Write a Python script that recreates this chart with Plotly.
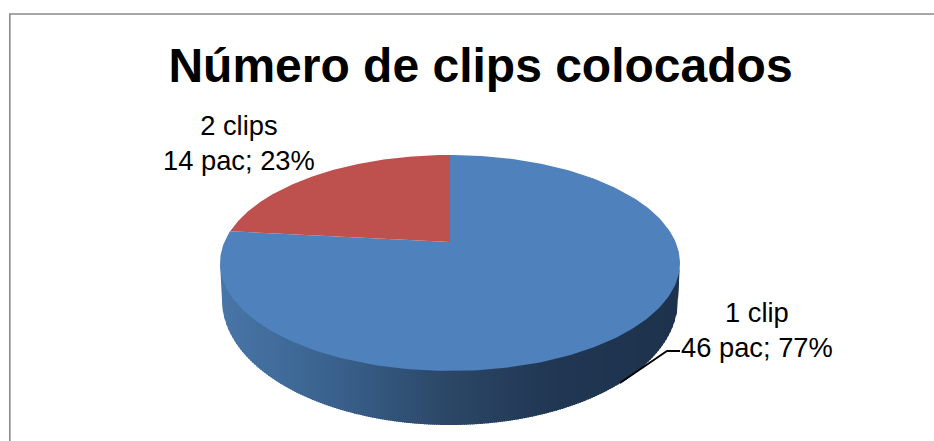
import numpy as np
import plotly.graph_objects as go

# Number of patients per clip count
categories = ["1 clip", "2 clips"]
patients = [46, 14]
slice_colors = ["#4F81BD", "#BE504E"]
title_text = "Número de clips colocados"

# Geometry of the tilted disc, in canvas units
WIDTH, HEIGHT = 934, 441
CX, CY = 450.0, 242.0
RADIUS_X, DEPTH, TILT = 225.6, 103.9, 0.194
TOP_MID_Y, TOP_W, TOP_H = 263.0, 230.0, 108.0
BASE_MID_Y, BASE_W, BASE_H = 300.0, 228.0, 125.0

# Side wall shading from left to right
wall_x = [220, 330, 450, 560, 680]
wall_rgb = [(72, 118, 168), (58, 98, 142), (43, 70, 102), (32, 54, 82), (30, 50, 77)]


def project(angle):
    """Map a clockwise angle from 12 o'clock onto the tilted top face."""
    u, v = np.sin(angle), np.cos(angle)
    scale = 1 + TILT * v
    return CX + RADIUS_X * u / scale, CY - DEPTH * v / scale


def lower_edge(x, mid_y, half_w, half_h):
    ratio = np.clip((x - CX) / half_w, -1, 1)
    return mid_y + half_h * np.sqrt(1 - ratio ** 2)


def base_edge(x):
    y = lower_edge(x, BASE_MID_Y, BASE_W, BASE_H)
    outside = np.abs(x - CX) > BASE_W
    blend = (np.abs(x - CX) - BASE_W) / (TOP_W - BASE_W)
    return np.where(outside, BASE_MID_Y + blend * (TOP_MID_Y - BASE_MID_Y), y)


fig = go.Figure()

# Side wall: narrow vertical strips carrying the shading
edges = np.arange(CX - TOP_W, CX + TOP_W + 2.0, 2.0)
for left, right in zip(edges[:-1], edges[1:]):
    xs = np.linspace(left, min(right + 1.0, CX + TOP_W), 4)
    top = lower_edge(xs, TOP_MID_Y, TOP_W, TOP_H) - 2
    bottom = base_edge(xs)
    channel = [np.interp((left + right) / 2, wall_x, [c[i] for c in wall_rgb]) for i in range(3)]
    fig.add_trace(go.Scatter(
        x=np.r_[xs, xs[::-1]], y=np.r_[top, bottom[::-1]],
        mode="lines", fill="toself", line=dict(width=0),
        fillcolor="rgb({:.0f},{:.0f},{:.0f})".format(*channel),
        hoverinfo="skip", showlegend=False,
    ))

# Top face: slices run clockwise from 12 o'clock
total = sum(patients)
start = 0.0
for name, value, color in zip(categories, patients, slice_colors):
    stop = start + 2 * np.pi * value / total
    sweep = np.linspace(start, stop, 240)
    arc_x, arc_y = project(sweep)
    fig.add_trace(go.Scatter(
        x=np.r_[CX, arc_x, CX], y=np.r_[CY, arc_y, CY],
        mode="lines", fill="toself", line=dict(width=0),
        fillcolor=color, name=name, hoverinfo="skip", showlegend=False,
    ))
    start = stop

label_font = dict(family="Liberation Sans, Arial, sans-serif", size=27.3, color="black")
label_pos = [(757, 329.5), (239, 142.5)]
for name, value, (lx, ly) in zip(categories, patients, label_pos):
    fig.add_annotation(
        x=lx, y=ly, xref="x", yref="y", showarrow=False, font=label_font, align="center",
        text=f"{name}<br>{value} pac; {round(100 * value / total)}%",
    )

fig.update_layout(
    width=WIDTH, height=HEIGHT,
    margin=dict(l=0, r=0, t=0, b=0),
    paper_bgcolor="white", plot_bgcolor="white",
    title=dict(
        text=f"<b>{title_text}</b>", x=480.5 / WIDTH, xanchor="center",
        y=1 - 65 / HEIGHT, yanchor="middle",
        font=dict(family="Liberation Sans, Arial, sans-serif", size=48, color="black"),
    ),
    xaxis=dict(range=[0, WIDTH], visible=False, fixedrange=True),
    yaxis=dict(range=[HEIGHT, 0], visible=False, fixedrange=True),
    shapes=[
        # Chart frame
        dict(type="path", path=f"M 9.8 {HEIGHT} L 9.8 14 L {WIDTH} 14",
             line=dict(color="#8A8A8A", width=1.6), xref="x", yref="y"),
        # Leader line of the large slice
        dict(type="path", path="M 620 383 L 667 351 L 680 351",
             line=dict(color="black", width=1.8), xref="x", yref="y"),
    ],
)

fig.write_html("out.html")
